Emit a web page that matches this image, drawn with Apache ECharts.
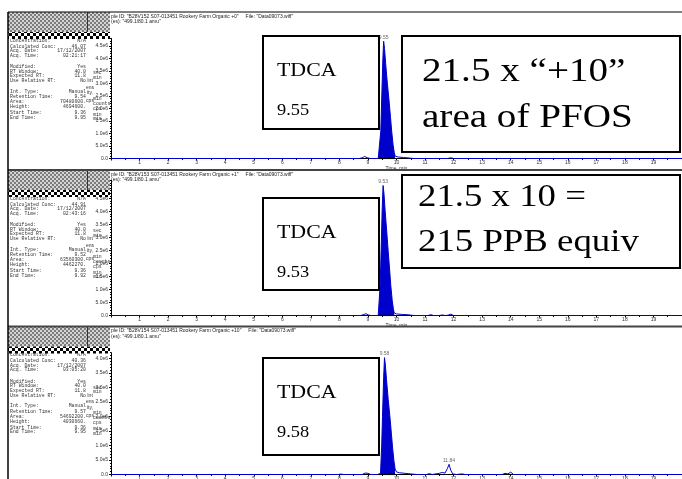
<!DOCTYPE html>
<html><head><meta charset="utf-8">
<script src="https://cdn.jsdelivr.net/npm/echarts@6/dist/echarts.min.js"></script>
<style>html,body{margin:0;padding:0;background:#fff}#c{width:682px;height:479px}</style>
</head><body><div id="c"></div>
<script>
// ---------- data ----------
const headers1 = ['ple ID: "B28V152 S07-013451 Rookery Farm Organic +0"     File: "Data09073.wiff"', '(es): "499.1/80.1 amu"'];
const headers2 = ['ple ID: "B28V153 S07-013451 Rookery Farm Organic +1"     File: "Data09073.wiff"', '(es): "499.1/80.1 amu"'];
const headers3 = ['ple ID: "B28V154 S07-013451 Rookery Farm Organic +10"     File: "Data09073.wiff"', '(es): "499.1/80.1 amu"'];

const infoLabels = ['Concentration:', 'Calculated Conc:', 'Acq. Date:', 'Acq. Time:', 'Modified:', 'RT Window:', 'Expected RT:', 'Use Relative RT:', 'Int. Type:', 'Retention Time:', 'Area:', 'Height:', 'Start Time:', 'End Time:'];
const infoUnits = ['', '', '', '', '', 'sec', 'min', '', '', 'min', 'counts', 'cps', 'min', 'min'];
const info1 = ['N/A', '46.07', '17/12/2007', '02:21:17', 'Yes', '40.0', '11.8', 'No', 'Manual', '9.54', '70480600.', '4694600.', '9.36', '9.95'];
const info2 = ['N/A', '44.91', '17/12/2007', '02:43:16', 'Yes', '40.0', '11.8', 'No', 'Manual', '9.52', '63560300.', '4462270.', '9.36', '9.92'];
const info3 = ['N/A', '40.36', '17/12/2007', '03:05:20', 'Yes', '40.0', '11.8', 'No', 'Manual', '9.57', '54692200.', '4030660.', '9.36', '9.95'];
const yTitleParts = ['Int', 'ens', 'ity,', 'cps'];

const trace1 = [[0,0],[8.70,0],[8.80,30000],[8.88,80000],[8.98,30000],[9.08,0],[9.36,0],[9.41,50000],[9.45,1100000],[9.48,2300000],[9.52,3900000],[9.55,4690000],[9.58,4400000],[9.62,3800000],[9.68,3000000],[9.74,2300000],[9.79,1650000],[9.83,1100000],[9.88,550000],[9.92,250000],[9.95,100000],[10.05,60000],[10.25,40000],[10.45,20000],[10.60,0],[11.80,0],[11.90,30000],[12.00,0],[20,0]];
const trace2 = [[0,0],[8.75,0],[8.85,40000],[8.93,70000],[9.02,20000],[9.10,0],[9.36,0],[9.40,60000],[9.43,1200000],[9.46,2450000],[9.50,4150000],[9.53,5000000],[9.56,4700000],[9.60,4050000],[9.66,3200000],[9.71,2450000],[9.76,1750000],[9.80,1150000],[9.85,580000],[9.89,260000],[9.92,100000],[10.00,60000],[10.20,40000],[10.40,30000],[10.60,0],[11.10,0],[11.20,30000],[11.30,0],[11.50,0],[11.60,20000],[11.70,0],[11.80,10000],[11.90,50000],[12.00,0],[20,0]];
const trace3 = [[0,0],[7.95,0],[8.05,15000],[8.15,0],[8.80,0],[8.90,50000],[9.00,40000],[9.10,0],[9.36,0],[9.44,40000],[9.48,950000],[9.51,2000000],[9.55,3350000],[9.58,4030000],[9.61,3780000],[9.65,3270000],[9.71,2580000],[9.77,1980000],[9.82,1420000],[9.86,950000],[9.91,470000],[9.95,200000],[10.00,90000],[10.10,60000],[10.30,40000],[10.50,20000],[10.70,0],[11.05,0],[11.15,30000],[11.25,0],[11.50,40000],[11.60,70000],[11.70,50000],[11.78,200000],[11.84,350000],[11.90,150000],[11.97,20000],[12.10,0],[12.30,20000],[12.40,0],[13.70,0],[13.80,40000],[13.90,20000],[14.00,80000],[14.10,0],[20,0]];

const fill1 = [9.36, 9.95];
const fill2 = [9.36, 9.92];
const fill3 = [9.36, 9.95];

const peaks1 = [[9.55, 4690000, '9.55']];
const peaks2 = [[9.53, 5000000, '9.53']];
const peaks3 = [[9.58, 4030000, '9.58'], [11.84, 350000, '11.84']];

const yMax = [4800000, 5200000, 4200000];
const tdca = [['TDCA', '9.55'], ['TDCA', '9.53'], ['TDCA', '9.58']];
const note1 = ['21.5 x \u201c+10\u201d', 'area of PFOS'];
const note2 = ['21.5 x 10 =', '215 PPB equiv'];

// ---------- layout ----------
const W = 682, H = 479;
const panelTop = [12, 170, 326.5];
const grids = [
  {left: 111, right: 0, top: 38.5, height: 120, outerBoundsMode: 'none'},
  {left: 111, right: 0, top: 180.3, height: 135.2, outerBoundsMode: 'none'},
  {left: 111, right: 0, top: 352.7, height: 121.8, outerBoundsMode: 'none'}
];
const rowOff = [28.5, 34.5, 39, 43.5, 55, 59.5, 64, 69, 79.5, 85, 90, 95, 101, 105.5];
const yTitleOff = [69, 75.5, 81, 89];
const BLUE = '#0000CC';

function sci(v) {
  if (v === 0) return '0.0';
  const e = Math.floor(Math.log10(v) + 1e-9);
  return (v / Math.pow(10, e)).toFixed(1) + 'e' + e;
}
function pat(c1, c2, cell) {
  const cv = document.createElement('canvas');
  cv.width = cv.height = cell * 2;
  const g = cv.getContext('2d');
  g.fillStyle = c1; g.fillRect(0, 0, cell * 2, cell * 2);
  g.fillStyle = c2; g.fillRect(0, 0, cell, cell); g.fillRect(cell, cell, cell, cell);
  return cv;
}
const grayPat = pat('#d4d4d4', '#7c7c7c', 2);
const bwPat = pat('#ffffff', '#000000', 3);

const traces = [trace1, trace2, trace3];
const fills = [fill1, fill2, fill3];
const peaks = [peaks1, peaks2, peaks3];
const infos = [info1, info2, info3];
const headers = [headers1, headers2, headers3];

const xAxes = [], yAxes = [], series = [], graphics = [];
for (let i = 0; i < 3; i++) {
  xAxes.push({
    type: 'value', gridIndex: i, min: 0, max: 20, interval: 1,
    name: 'Time, min', nameLocation: 'middle', nameGap: 7,
    nameTextStyle: {fontSize: 5, color: '#333', fontFamily: 'Liberation Sans'},
    axisLine: {lineStyle: {color: '#000', width: 1}},
    axisTick: {length: 2, lineStyle: {color: '#000'}},
    minorTick: {show: true, splitNumber: 2, length: 1.5, lineStyle: {color: '#000'}},
    axisLabel: {fontSize: 5, margin: 2, color: '#333', fontFamily: 'Liberation Sans', showMinLabel: false, showMaxLabel: false},
    splitLine: {show: false}
  });
  yAxes.push({
    type: 'value', gridIndex: i, min: 0, max: yMax[i], interval: 500000,
    axisLine: {show: true, lineStyle: {color: '#000', width: 1}},
    axisTick: {show: true, length: 2, lineStyle: {color: '#000'}},
    minorTick: {show: true, splitNumber: 5, length: 1, lineStyle: {color: '#000'}},
    axisLabel: {fontSize: 5, margin: 3, color: '#333', fontFamily: 'Liberation Sans', showMaxLabel: false, formatter: sci},
    splitLine: {show: false}
  });
  const f = fills[i];
  series.push({
    type: 'line', xAxisIndex: i, yAxisIndex: i, data: traces[i].filter(p => p[0] >= f[0] && p[0] <= f[1]),
    showSymbol: false, lineStyle: {width: 0}, areaStyle: {color: BLUE, opacity: 1}, z: 2, silent: true
  });
  series.push({
    type: 'line', xAxisIndex: i, yAxisIndex: i, data: traces[i],
    showSymbol: false, lineStyle: {color: BLUE, width: 1}, z: 3, silent: true
  });
  series.push({
    type: 'line', xAxisIndex: i, yAxisIndex: i, data: [[f[0], 0], [f[1], 0]],
    showSymbol: false, lineStyle: {color: '#000', width: 1.5}, z: 4, silent: true
  });
  series.push({
    type: 'scatter', xAxisIndex: i, yAxisIndex: i, data: peaks[i],
    symbolSize: 1, itemStyle: {color: 'rgba(0,0,0,0)'}, z: 5, silent: true,
    label: {show: true, position: 'top', distance: 1, fontSize: 5, color: '#444', fontFamily: 'Liberation Sans',
      formatter: p => p.data[2]}
  });

  const P = panelTop[i];
  headers[i].forEach((t, k) => graphics.push({type: 'text', x: 111, y: P + 4.5 + k * 5.5, z: 100,
    style: {text: t, font: '5px "Liberation Sans"', fill: '#222', textVerticalAlign: 'middle'}}));
  infoLabels.forEach((lab, k) => {
    const y = P + rowOff[k];
    graphics.push({type: 'text', x: 10, y: y, z: 100, style: {text: lab, font: '4.8px "Liberation Mono"', fill: '#333', textVerticalAlign: 'middle'}});
    graphics.push({type: 'text', x: 86, y: y, z: 100, style: {text: infos[i][k], font: '4.8px "Liberation Mono"', fill: '#333', textAlign: 'right', textVerticalAlign: 'middle'}});
    if (infoUnits[k]) graphics.push({type: 'text', x: 93, y: y + 1.5, z: 100, style: {text: infoUnits[k], font: '4.8px "Liberation Mono"', fill: '#333', textVerticalAlign: 'middle'}});
  });
  yTitleParts.forEach((t, k) => graphics.push({type: 'text', x: 90, y: P + yTitleOff[k], z: 100,
    style: {text: t, font: '5px "Liberation Sans"', fill: '#333', textAlign: 'center', textVerticalAlign: 'middle'}}));
  graphics.push({type: 'rect', z: 110, shape: {x: 8, y: P, width: 102, height: 20}, style: {fill: {image: grayPat, repeat: 'repeat'}}});
  graphics.push({type: 'rect', z: 110, shape: {x: 8, y: P + 20, width: 102, height: 7}, style: {fill: {image: bwPat, repeat: 'repeat'}}});
  graphics.push({type: 'line', z: 111, shape: {x1: 87.5, y1: P, x2: 87.5, y2: P + 20}, style: {stroke: '#333', lineWidth: 1}});
  const boxTop = [36, 198, 358][i];
  graphics.push({type: 'rect', z: 120, shape: {x: 263, y: boxTop, width: 116, height: [93, 92, 97][i]}, style: {fill: '#fff', stroke: '#000', lineWidth: 2}});
  graphics.push({type: 'text', z: 121, x: 277, y: boxTop + 35, scaleX: 1.15, style: {text: tdca[i][0], font: '19px "Liberation Serif"', fill: '#000', textVerticalAlign: 'middle'}});
  graphics.push({type: 'text', z: 121, x: 277, y: boxTop + 75, scaleX: 1.15, style: {text: tdca[i][1], font: '16px "Liberation Serif"', fill: '#000', textVerticalAlign: 'middle'}});
}
graphics.push({type: 'rect', z: 120, shape: {x: 402, y: 36, width: 278, height: 116}, style: {fill: '#fff', stroke: '#000', lineWidth: 2}});
graphics.push({type: 'text', z: 121, x: 422, y: 72, scaleX: 1.15, style: {text: note1[0], font: '34px "Liberation Serif"', fill: '#000', textVerticalAlign: 'middle'}});
graphics.push({type: 'text', z: 121, x: 422, y: 118, scaleX: 1.15, style: {text: note1[1], font: '34px "Liberation Serif"', fill: '#000', textVerticalAlign: 'middle'}});
graphics.push({type: 'rect', z: 120, shape: {x: 402, y: 175, width: 278, height: 93}, style: {fill: '#fff', stroke: '#000', lineWidth: 2}});
graphics.push({type: 'text', z: 121, x: 418, y: 198, scaleX: 1.15, style: {text: note2[0], font: '32px "Liberation Serif"', fill: '#000', textVerticalAlign: 'middle'}});
graphics.push({type: 'text', z: 121, x: 418, y: 243, scaleX: 1.15, style: {text: note2[1], font: '32px "Liberation Serif"', fill: '#000', textVerticalAlign: 'middle'}});
graphics.push({type: 'line', z: 130, shape: {x1: 8, y1: 12, x2: W, y2: 12}, style: {stroke: '#000', lineWidth: 1}});
graphics.push({type: 'line', z: 130, shape: {x1: 8, y1: 170, x2: W, y2: 170}, style: {stroke: '#444', lineWidth: 2}});
graphics.push({type: 'line', z: 130, shape: {x1: 8, y1: 326.5, x2: W, y2: 326.5}, style: {stroke: '#444', lineWidth: 2}});
graphics.push({type: 'line', z: 130, shape: {x1: 8, y1: 12, x2: 8, y2: H}, style: {stroke: '#000', lineWidth: 1.5}});

const chart = echarts.init(document.getElementById('c'), null, {width: W, height: H, renderer: 'canvas'});
chart.setOption({
  animation: false,
  backgroundColor: '#fff',
  grid: grids,
  xAxis: xAxes,
  yAxis: yAxes,
  series: series,
  graphic: {elements: graphics}
});
</script>
</body></html>
